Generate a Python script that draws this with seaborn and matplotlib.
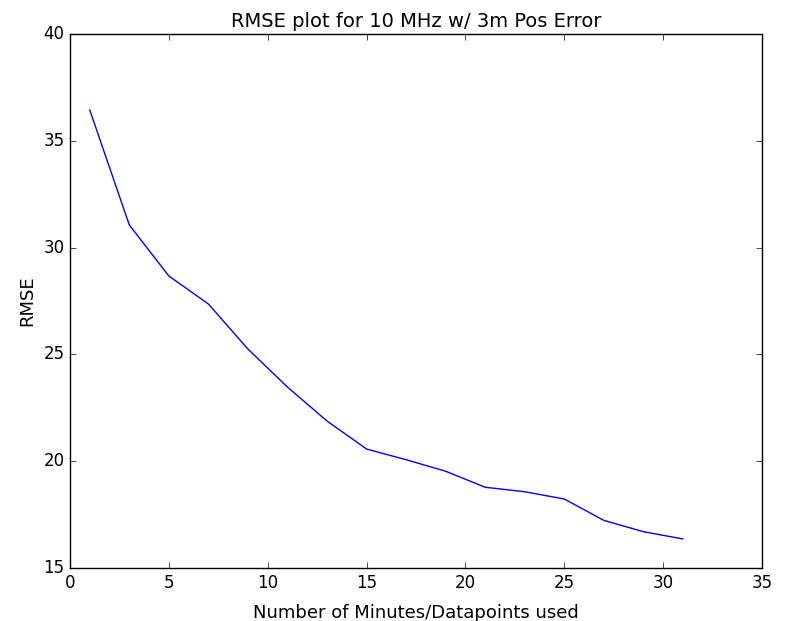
import matplotlib
matplotlib.use("Agg")
import matplotlib.pyplot as plt
import seaborn as sns
import pandas as pd

minutes = [1, 3, 5, 7, 9, 11, 13, 15, 17, 19, 21, 23, 25, 27, 29, 31]
rmse = [36.44, 31.06, 28.67, 27.36, 25.25, 23.47, 21.88, 20.57, 20.07, 19.53,
        18.78, 18.57, 18.23, 17.23, 16.70, 16.36]

plt.style.use("classic")
plt.rcParams["font.family"] = ["DejaVu Sans"]

df = pd.DataFrame({"minutes": minutes, "rmse": rmse})

fig = plt.figure(figsize=(7.92, 6.21), dpi=100, facecolor="white")
ax = fig.add_axes([70 / 792, 1 - 568 / 621, 692 / 792, 534 / 621])
sns.lineplot(data=df, x="minutes", y="rmse", ax=ax, color="b", linewidth=1.0)
ax.set_xlim(0, 35)
ax.set_ylim(15, 40)
ax.set_xticks(range(0, 36, 5))
ax.set_yticks(range(15, 41, 5))
ax.set_title("RMSE plot for 10 MHz w/ 3m Pos Error", fontsize=14)
ax.set_xlabel("Number of Minutes/Datapoints used", fontsize=13, labelpad=9)
ax.set_ylabel("RMSE", fontsize=13)
ax.tick_params(labelsize=12)
fig.savefig("out.png", dpi=100, facecolor="white")
